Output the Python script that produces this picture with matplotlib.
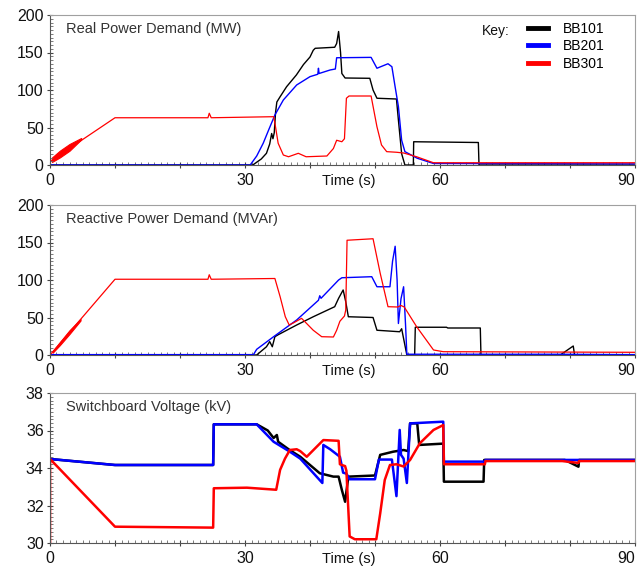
import matplotlib
matplotlib.use("Agg")
import numpy as np
import matplotlib.pyplot as plt
from matplotlib.ticker import MultipleLocator, FixedLocator, FixedFormatter

plt.rcParams['font.family'] = ['Liberation Sans', 'DejaVu Sans']

# ---- data ----
# real power demand (MW)
t_p_blk = [0, 31.2, 32.5, 33.3, 33.8, 34.1, 34.3, 34.5, 34.7, 34.9, 35.4, 36.4, 37.9, 39.0,
           40.0, 40.5, 40.8, 43.8, 44.1, 44.4, 44.7, 44.9, 45.4, 49.2, 49.7, 50.3, 53.3,
           53.6, 54.1, 54.6, 55.9, 55.95, 65.9, 66.0, 90]
p_blk = [0, 0, 8, 15.6, 28, 42, 35, 43, 70, 84, 91, 104.4, 120, 134,
         144, 153, 155.6, 157, 162, 178, 150, 122, 116, 115.6, 100, 89, 88,
         60, 15, 0, 0, 31, 30, 0, 0]

t_p_blu = [0, 30.8, 31.8, 32.8, 33.7, 34.6, 35.9, 37.95, 40.0, 41.2, 41.3, 41.4, 43.1,
           43.9, 44.1, 49.4, 50.3, 52.0, 52.6, 53.1, 53.6, 54.1, 54.6, 56.5, 59.0, 90]
p_blu = [0, 0, 12, 29, 48, 66.7, 86.7, 106.7, 117.8, 121, 129, 122, 126.7,
         128, 143, 143.5, 129, 135, 131, 104, 78, 33, 17.8, 9, 2, 1.5]

t_p_red = [0, 0.01, 0.05, 10.0, 24.3, 24.5, 24.8, 34.4, 34.6, 35.1, 35.9, 36.7, 38.2, 39.4,
           42.6, 43.6, 44.1, 44.9, 45.3, 45.6, 46.0, 49.4, 50.3, 51.0, 51.8, 53.3, 54.4,
           56.4, 59.0, 90]
p_red = [0, 52, 5, 63, 63, 69, 63, 64.4, 56, 29, 13.3, 11, 15.6, 11,
         12, 22, 33, 31, 35, 89, 92, 92, 51, 26.7, 17.8, 17, 16,
         11, 3, 3]

# oscillation band on the red start-up ramp
band_p_t = [0.3, 1.5, 3.0, 4.8]
band_p_lo = [4, 10, 19, 34]
band_p_hi = [10, 19, 28, 36]

# reactive power demand (MVAr)
t_q_blk = [0, 31.8, 33.3, 33.8, 34.2, 34.6, 35.1, 37.95, 40.5, 43.8, 44.4, 45.1, 45.5,
           45.9, 49.7, 50.3, 53.8, 54.1, 54.9, 56.1, 56.2, 61.0, 61.2, 66.2, 66.3,
           78.5, 80.5, 80.7, 90]
q_blk = [0, 0, 11, 17.8, 11, 24.4, 27, 40, 51, 64.4, 75.6, 86.7, 71,
         51, 50, 33, 31, 35, 0, 0, 37, 37, 36, 36, 0,
         0, 12, 0, 0]

t_q_blu = [0, 31.3, 31.8, 34.4, 37.95, 41.3, 41.5, 41.7, 44.4, 44.9, 49.5, 50.3, 52.3,
           52.7, 53.1, 53.4, 53.6, 54.0, 54.4, 54.7, 54.9, 78.0, 90]
q_blu = [0.5, 0.5, 7.6, 24.4, 46.7, 73, 79, 75.6, 100, 103, 104.4, 91, 91,
         125, 145, 100, 42, 75, 91, 40, 1, 1, 0.5]

t_q_red = [0, 10.0, 24.3, 24.5, 24.8, 34.6, 35.4, 36.2, 36.8, 37.5, 38.7, 40.5, 41.8,
           43.6, 44.1, 44.6, 45.3, 45.5, 45.7, 49.7, 50.8, 52.0, 53.5, 54.0, 54.5,
           56.4, 59.0, 60.5, 90]
q_red = [0, 101, 101, 107, 101, 102, 77.8, 51, 40, 43, 48.9, 33, 24.4,
         24, 33, 45, 52, 60, 153, 155, 109, 64.4, 64, 66, 64,
         37.8, 6.7, 4.4, 3.6]

band_q_t = [0.4, 1.5, 3.0, 4.7]
band_q_lo = [3, 13, 28, 46]
band_q_hi = [5, 17, 33, 48]

# switchboard voltage (kV)
t_v_blk = [0, 10, 25.1, 25.2, 31.8, 33.5, 34.4, 34.9, 35.1, 36.9, 38.5, 41.5, 43.6, 44.4,
           44.9, 45.4, 45.9, 50.0, 50.8, 52.8, 54.4, 55.1, 55.4, 56.5, 56.8, 60.5, 60.6,
           66.7, 66.8, 79.2, 81.3, 81.4, 90]
v_blk = [34.48, 34.16, 34.16, 36.33, 36.33, 36.0, 35.6, 35.76, 35.4, 34.95, 34.6, 33.72, 33.54, 33.54,
         32.83, 32.2, 33.54, 33.6, 34.7, 34.87, 34.96, 34.9, 36.38, 36.38, 35.23, 35.3, 33.27,
         33.27, 34.43, 34.43, 34.07, 34.43, 34.43]

t_v_blu = [0, 10, 25.1, 25.2, 31.8, 34.4, 36.9, 38.5, 41.9, 42.05, 43.1, 44.6, 45.1, 45.6,
           46.1, 50.0, 50.6, 52.6, 53.3, 53.8, 54.0, 54.4, 54.9, 55.4, 60.5, 60.6, 66.9,
           67.0, 90]
v_blu = [34.48, 34.16, 34.16, 36.33, 36.33, 35.4, 34.87, 34.5, 33.2, 35.23, 35.0, 34.6, 33.75, 33.7,
         33.4, 33.4, 34.45, 34.45, 32.5, 36.03, 34.7, 34.5, 33.2, 36.38, 36.47, 34.34, 34.34,
         34.43, 34.43]

t_v_red = [0, 0.01, 10, 25.1, 25.2, 30.3, 34.8, 35.4, 36.15, 36.9, 37.95, 38.5, 39.5, 42.05,
           44.4, 44.6, 45.4, 45.6, 46.1, 46.9, 50.2, 50.8, 51.5, 52.3, 53.3, 54.4, 55.4,
           56.9, 59.0, 60.5, 60.6, 66.9, 67.0, 78.8, 81.3, 81.4, 90]
v_red = [30, 34.48, 30.87, 30.82, 32.92, 32.95, 32.84, 33.9, 34.5, 34.96, 35.0, 34.9, 34.6, 35.49,
         35.45, 34.2, 34.1, 33.85, 30.35, 30.2, 30.2, 31.58, 33.36, 34.16, 34.2, 34.08, 34.43,
         35.32, 36.03, 36.29, 34.2, 34.2, 34.37, 34.37, 34.27, 34.37, 34.37]

labels = ["BB101", "BB201", "BB301"]
colors = ["#000000", "#0000ff", "#ff0000"]
titles = ["Real Power Demand (MW)", "Reactive Power Demand (MVAr)", "Switchboard Voltage (kV)"]


def style_axes(ax, ylim, ymajor, yminor, title):
    ax.set_xlim(0, 90)
    ax.set_ylim(*ylim)
    ax.xaxis.set_major_locator(FixedLocator(range(0, 91, 10)))
    ax.xaxis.set_major_formatter(FixedFormatter(["0", "", "", "30", "", "", "60", "", "", "90"]))
    ax.xaxis.set_minor_locator(MultipleLocator(1))
    ax.yaxis.set_major_locator(MultipleLocator(ymajor))
    ax.yaxis.set_minor_locator(MultipleLocator(yminor))
    ax.tick_params(which="major", direction="inout", length=5, width=0.8, color="#444444",
                   labelsize=11.5, labelcolor="#111111", pad=2)
    ax.tick_params(axis="x", which="major", pad=3)
    ax.tick_params(which="minor", direction="in", length=2.5, width=0.6, color="#666666")
    xl = ax.get_xticklabels()
    xl[-1].set_ha("right")
    for side in ["top", "right"]:
        ax.spines[side].set_color("#a0a0a0")
    for side in ["left", "bottom"]:
        ax.spines[side].set_color("#555555")
    ax.text(0.027, 0.905, title, transform=ax.transAxes, fontsize=10.5,
            color="#333333", va="center", ha="left")
    ax.text(46, -0.105, "Time (s)", transform=ax.get_xaxis_transform(),
            fontsize=10.5, color="#111111", ha="center", va="center")


fig = plt.figure(figsize=(6.44, 5.67), dpi=100)
left, width, height = 50 / 644, 585 / 644, 150 / 567
ax1 = fig.add_axes([left, (567 - 165) / 567, width, height])
ax2 = fig.add_axes([left, (567 - 355) / 567, width, height])
ax3 = fig.add_axes([left, (567 - 543) / 567, width, height])

# real power
ax1.plot(t_p_blk, p_blk, color=colors[0], lw=1.0, label=labels[0])
ax1.plot(t_p_blu, p_blu, color=colors[1], lw=1.0, label=labels[1])
ax1.plot(t_p_red, p_red, color=colors[2], lw=0.9, label=labels[2])
ax1.fill_between(band_p_t, band_p_lo, band_p_hi, color=colors[2], lw=0.8)
style_axes(ax1, (0, 200), 50, 5, titles[0])

leg = ax1.legend(loc="upper left", bbox_to_anchor=(0.817, 0.955), frameon=False,
                 fontsize=10, handlelength=1.45, handletextpad=1.05, labelspacing=0.25,
                 borderpad=0, borderaxespad=0)
for ln in leg.get_lines():
    ln.set_linewidth(3.5)
ax1.text(0.738, 0.895, "Key:", transform=ax1.transAxes, fontsize=10,
         color="#111111", va="center", ha="left")

# reactive power
ax2.plot(t_q_blk, q_blk, color=colors[0], lw=1.0)
ax2.plot(t_q_blu, q_blu, color=colors[1], lw=1.0)
ax2.plot(t_q_red, q_red, color=colors[2], lw=0.9)
ax2.fill_between(band_q_t, band_q_lo, band_q_hi, color=colors[2], lw=0.8)
style_axes(ax2, (0, 200), 50, 5, titles[1])

# voltage
ax3.plot(t_v_blk, v_blk, color=colors[0], lw=1.8)
ax3.plot(t_v_blu, v_blu, color=colors[1], lw=1.8)
ax3.plot(t_v_red, v_red, color=colors[2], lw=1.8)
style_axes(ax3, (30, 38), 2, 0.2, titles[2])

fig.savefig("out.png", dpi=100)
